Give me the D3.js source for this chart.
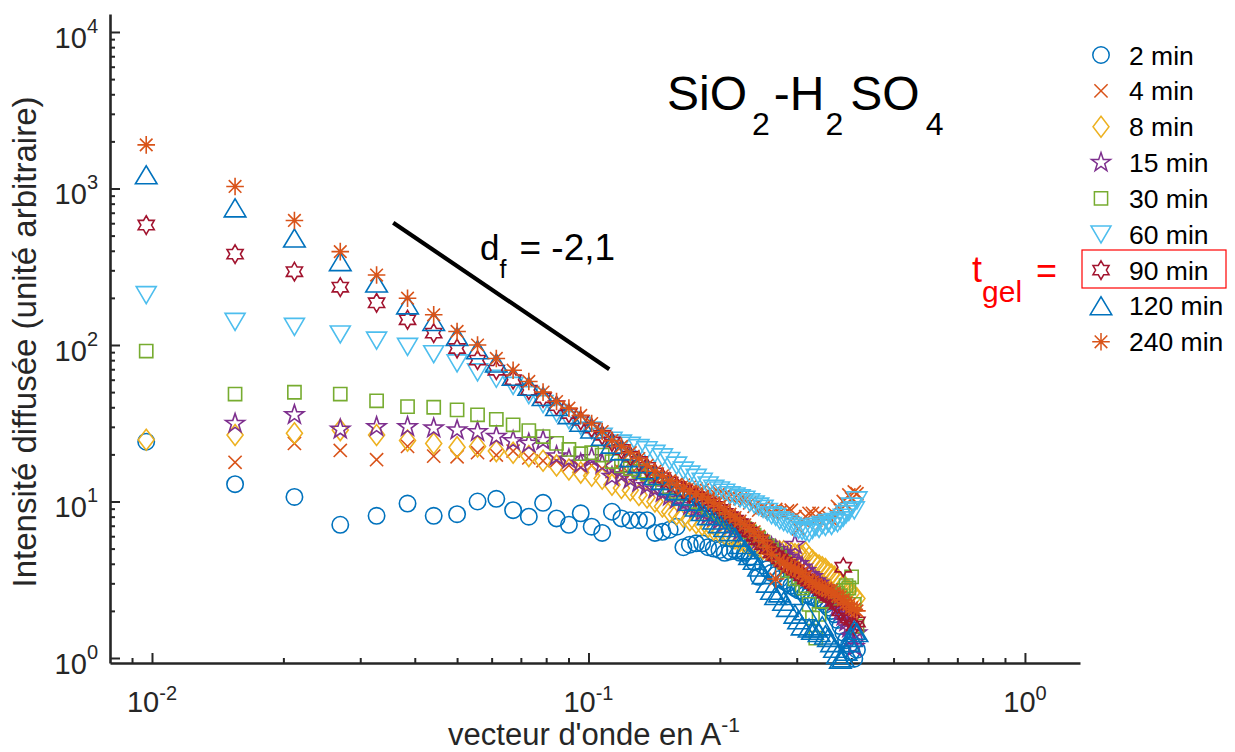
<!DOCTYPE html>
<html><head><meta charset="utf-8">
<script src="https://cdn.jsdelivr.net/npm/d3@7"></script>
<style>
html,body{margin:0;padding:0;background:#fff;}
svg{display:block;font-family:"Liberation Sans",Arial,Helvetica,sans-serif;}
</style></head><body>
<svg id="chart" width="1235" height="752"></svg>
<script>
// ---------------- DATA ----------------
const q = [0.0097,0.0155,0.0212,0.0270,0.0327,0.0385,0.0442,0.0500,0.0557,0.0615,
0.0672,0.0730,0.0787,0.0845,0.0902,0.0960,0.1017,0.1075,0.1132,0.1190,
0.1247,0.1305,0.1362,0.1420,0.1477,0.1535,0.1592,0.1650,0.1707,0.1765,
0.1822,0.1880,0.1937,0.1995,0.2052,0.2110,0.2167,0.2225,0.2282,0.2340,
0.2397,0.2455,0.2512,0.2570,0.2627,0.2685,0.2742,0.2800,0.2857,0.2915,
0.2972,0.3030,0.3087,0.3145,0.3202,0.3260,0.3317,0.3375,0.3432,0.3490,
0.3547,0.3605,0.3662,0.3720,0.3777,0.3835,0.3892,0.3950,0.4007,0.4065,0.4122];

const seriesNames = ["2 min","4 min","8 min","15 min","30 min","60 min","90 min","120 min","240 min"];

const I2 = [24.1,12.9,10.7,7.1,8.1,9.7,8.1,8.3,10.0,10.4,
8.8,8.0,9.8,7.8,7.1,8.4,6.9,6.3,8.6,7.8,
7.6,7.6,7.6,6.3,6.4,6.6,6.9,5.1,5.3,5.4,
5.4,5.1,5.0,4.9,4.7,4.8,4.9,4.7,4.7,4.4,
4.1,3.3,3.9,3.7,3.5,3.4,3.2,3.1,3.0,2.9,
2.8,2.7,2.65,2.55,2.5,2.45,2.4,2.35,2.3,2.2,
2.1,2.0,1.9,1.75,1.6,1.45,1.3,1.2,1.1,0.99,1.13];

const I4 = [null,17.8,23.5,21.2,18.5,22.5,19.5,19.3,20.5,19.8,
21.0,19.0,18.2,18.2,17.0,16.5,17.0,16.2,15.5,15.6,
14.9,14.6,14.5,14.1,13.8,13.4,13.0,12.7,12.4,12.0,
11.8,11.6,11.4,11.3,11.0,10.8,10.6,10.4,10.2,9.8,
9.3,8.8,9.1,8.8,8.6,8.9,8.5,8.3,8.7,8.8,
8.0,6.7,7.6,8.0,8.4,8.4,7.6,8.4,7.3,7.8,
8.0,7.6,8.3,9.3,8.8,10.0,9.6,11.0,10.4,11.5,11.2];

const I8 = [24.8,26.6,27.3,28.6,26.6,24.5,23.5,22.2,22.5,21.0,
20.5,19.5,18.2,17.0,16.0,15.3,14.6,14.0,12.8,12.2,
11.8,11.0,10.6,10.0,9.3,8.6,8.3,8.0,7.6,7.3,
7.1,6.9,6.6,6.4,6.2,6.0,5.8,5.6,5.4,5.3,
5.2,5.1,5.0,5.0,4.9,4.9,4.8,4.8,4.7,4.7,
4.6,4.6,4.5,4.7,4.4,4.2,4.0,3.9,3.8,3.7,
3.5,3.4,3.3,3.2,3.0,2.9,2.8,2.7,2.6,2.5,2.4];

const I15 = [null,31.5,35.8,28.9,30.0,30.0,29.4,28.6,27.9,26.0,
24.4,23.5,24.5,19.5,18.6,17.5,19.0,17.3,14.4,14.8,
13.9,13.2,12.6,12.0,11.4,10.8,10.3,9.8,9.4,9.0,
8.6,8.2,7.9,7.6,7.3,7.0,6.8,6.5,6.3,6.1,
5.9,5.7,5.5,5.3,5.1,4.9,4.7,4.5,4.4,4.2,
5.3,4.0,3.8,3.6,3.4,3.3,3.1,3.0,2.8,2.7,
2.55,2.4,2.3,2.15,2.0,1.85,1.7,1.55,1.37,1.18,1.44];

const I30 = [91.5,48.6,49.9,48.6,44.0,40.4,40.0,38.5,35.8,33.5,
30.9,28.4,26.0,23.5,21.5,20.2,20.5,19.8,18.0,16.9,
16.2,15.6,15.0,14.0,13.2,12.4,11.6,11.2,10.5,10.0,
9.6,9.2,8.8,8.4,8.0,7.6,7.3,7.0,6.7,6.4,
6.1,5.8,5.5,5.2,4.9,4.6,4.4,4.1,3.6,3.7,
3.2,3.3,2.8,2.9,2.2,1.8,1.34,1.9,2.3,2.5,
2.6,2.5,2.4,2.6,2.5,2.7,2.9,2.8,3.3,2.2,1.6];

const I60 = [209,141,131,117,107,97.5,87.5,76.5,67,61,
55,48,42,36.8,33.2,30.5,28.5,26.0,24.5,23.5,
22.8,22.0,21.3,20.2,19.2,18.2,17.0,15.8,14.9,14.2,
13.4,12.7,12.1,11.8,11.4,11.0,10.8,10.5,10.3,9.9,
9.6,9.3,9.0,8.6,8.2,8.0,7.6,7.4,7.2,7.0,
6.8,6.6,6.5,6.4,6.3,6.6,6.9,6.7,7.1,6.9,
7.3,7.0,7.4,7.3,7.6,7.9,8.3,8.6,9.3,8.8,10.2];

const I90 = [584,381,294,234,186,145,119,95,80,69,
60,51.5,46,41,36.5,33,29.5,26.5,24,21.5,
19.5,18,16.5,15.2,14.2,13.3,12.5,11.8,11.2,10.7,
10.2,9.8,9.3,8.9,8.4,8.0,7.6,7.2,6.8,6.4,
6.0,5.7,5.3,5.0,4.7,4.5,4.3,4.1,3.95,3.8,
3.65,3.5,3.35,3.2,3.1,3.0,2.9,2.8,2.7,2.6,
2.5,2.45,2.3,2.2,2.0,3.8,1.9,1.8,1.75,1.6,1.7];

const I120 = [1220,750,481,340,248,180,141,113,93,76.5,
63,54.3,46.7,40.3,35.8,32,29,26,23.2,21,
19,17.4,15.9,14.6,13.6,12.6,11.7,10.8,10.0,9.2,
8.6,8.1,7.6,7.2,6.8,6.4,5.9,5.3,4.9,4.5,
4.2,3.8,3.4,3.0,2.7,2.5,2.6,2.3,2.1,2.5,
1.9,1.75,1.6,2.0,1.55,1.5,1.55,1.45,1.6,1.4,
1.35,1.25,1.15,1.05,0.98,1.0,1.1,1.25,1.35,1.5,1.45];

const I240 = [1900,1030,625,395,280,199,156,122,100,82,
69,58.5,50,43.5,39.5,35.5,31.5,28,24.5,22.5,
20.5,18.8,17,15.6,14.6,13.6,12.8,12.1,11.6,11.2,
10.8,10.3,9.8,9.3,8.8,8.3,7.9,7.5,7.1,6.7,
6.4,6.0,5.6,5.1,4.6,3.2,4.2,4.05,3.9,3.8,
3.7,3.6,3.5,3.3,3.15,3.05,2.95,2.85,2.8,2.75,
2.7,2.7,2.6,2.5,2.45,2.35,2.25,2.2,2.1,2.05,2.0];

const seriesValues = [I2,I4,I8,I15,I30,I60,I90,I120,I240];
const markerTypes = ["circle","cross","diamond","pentagram","square","triangleDown","hexagram","triangleUp","asterisk"];
const colors = ["#0072BD","#D95319","#EDB120","#7E2F8E","#77AC30","#4DBEEE","#A2142F","#0072BD","#D95319"];

// reference slope line (drawn in data coordinates)
const slopeQ = [0.0357, 0.1116];
const slopeI = [604, 70];

const xMajor = [0.01, 0.1, 1];
const xMajorExp = ["-2","-1","0"];
const yMajor = [1, 10, 100, 1000, 10000];
const yMajorExp = ["0","1","2","3","4"];
const xMinor = [0.009,0.02,0.03,0.04,0.05,0.06,0.07,0.08,0.09,0.2,0.3,0.4,0.5,0.6,0.7,0.8,0.9];
const yMinor = [2,3,4,5,6,7,8,9,20,30,40,50,60,70,80,90,200,300,400,500,600,700,800,900,2000,3000,4000,5000,6000,7000,8000,9000];

// ---------------- CHART ----------------
const svg = d3.select("#chart");
const axisColor = "#262626";
const x = d3.scaleLog().domain([0.008013, 1.337]).range([110, 1080]);
const y = d3.scaleLog().domain([0.929, 13030]).range([663, 14]);

function shapePath(type){
  const p = d3.path();
  const star = (R, r, n, a0) => {
    for(let k=0;k<2*n;k++){
      const rad = k%2===0 ? R : r;
      const a = a0 + k*Math.PI/n;
      const px = rad*Math.cos(a), py = rad*Math.sin(a);
      if(k===0) p.moveTo(px,py); else p.lineTo(px,py);
    }
    p.closePath();
  };
  switch(type){
    case "circle": p.moveTo(8.2,0); p.arc(0,0,8.2,0,2*Math.PI); p.closePath(); break;
    case "cross": p.moveTo(-6.6,-6.6); p.lineTo(6.6,6.6); p.moveTo(-6.6,6.6); p.lineTo(6.6,-6.6); break;
    case "diamond": p.moveTo(0,-10.5); p.lineTo(8,0); p.lineTo(0,10.5); p.lineTo(-8,0); p.closePath(); break;
    case "pentagram": star(10, 3.9, 5, -Math.PI/2); break;
    case "square": p.rect(-6.6,-6.6,13.2,13.2); break;
    case "triangleDown": p.moveTo(-10,-8.3); p.lineTo(10,-8.3); p.lineTo(0,8.7); p.closePath(); break;
    case "hexagram": star(9.3, 9.3/Math.sqrt(3), 6, -Math.PI/2); break;
    case "triangleUp": p.moveTo(-10.8,8.8); p.lineTo(10.8,8.8); p.lineTo(0,-9.2); p.closePath(); break;
    case "asterisk": p.moveTo(-8.8,0); p.lineTo(8.8,0); p.moveTo(0,-8.8); p.lineTo(0,8.8);
      p.moveTo(-6.3,-6.3); p.lineTo(6.3,6.3); p.moveTo(-6.3,6.3); p.lineTo(6.3,-6.3); break;
  }
  return p.toString();
}

// axes
const gx = svg.append("g").attr("transform","translate(0,663)");
gx.call(d3.axisBottom(x).tickValues(xMinor).tickSize(-5).tickSizeOuter(0).tickFormat(""));
const gx2 = svg.append("g").attr("transform","translate(0,663)");
gx2.call(d3.axisBottom(x).tickValues(xMajor).tickSize(-10).tickSizeOuter(0).tickFormat(""));
gx2.select(".domain").remove();

const gy = svg.append("g").attr("transform","translate(110,0)");
gy.call(d3.axisLeft(y).tickValues(yMinor).tickSize(-5).tickSizeOuter(0).tickFormat(""));
const gy2 = svg.append("g").attr("transform","translate(110,0)");
gy2.call(d3.axisLeft(y).tickValues(yMajor).tickSize(-10).tickSizeOuter(0).tickFormat(""));
gy2.select(".domain").remove();

svg.selectAll(".domain").attr("stroke",axisColor).attr("stroke-width",2.6);
svg.selectAll(".tick line").attr("stroke",axisColor).attr("stroke-width",2);

// tick labels
xMajor.forEach((t,i)=>{
  const tx = svg.append("text").attr("x",x(t)).attr("y",712).attr("text-anchor","middle")
    .attr("fill",axisColor).attr("font-size",29);
  tx.append("tspan").text("10");
  tx.append("tspan").attr("dy",-12).attr("font-size",20).text(xMajorExp[i]);
});
yMajor.forEach((t,i)=>{
  const ty = svg.append("text").attr("x",98).attr("y",y(t)+16).attr("text-anchor","end")
    .attr("fill",axisColor).attr("font-size",29);
  ty.append("tspan").text("10");
  ty.append("tspan").attr("dy",-15).attr("font-size",20).text(yMajorExp[i]);
});

// axis titles
svg.append("text").attr("transform","translate(36,342) rotate(-90)").attr("text-anchor","middle")
  .attr("fill",axisColor).attr("font-size",33).text("Intensité diffusée (unité arbitraire)");
const xl = svg.append("text").attr("x",594).attr("y",745).attr("text-anchor","middle")
  .attr("fill",axisColor).attr("font-size",31);
xl.append("tspan").text("vecteur d'onde en A");
xl.append("tspan").attr("dy",-13).attr("font-size",21).text("-1");

// data markers
seriesValues.forEach((vals,i)=>{
  const pts = q.map((qq,k)=>({q:qq,v:vals[k]})).filter(d=>d.v!=null && d.v>=y.domain()[0]);
  svg.append("g").attr("fill","none").attr("stroke",colors[i]).attr("stroke-width",1.6)
    .selectAll("path").data(pts).join("path")
    .attr("d",shapePath(markerTypes[i]))
    .attr("transform",d=>`translate(${x(d.q)},${y(d.v)})`);
});

// slope line
svg.append("path")
  .attr("d", d3.line().x(d=>x(d[0])).y(d=>y(d[1]))(slopeQ.map((s,k)=>[s,slopeI[k]])))
  .attr("stroke","#000").attr("stroke-width",4.2).attr("fill","none");

// slope annotation
const df = svg.append("text").attr("x",480).attr("y",260).attr("font-size",35).attr("fill","#000");
df.append("tspan").text("d");
df.append("tspan").attr("dy",18).attr("font-size",25).text("f");
df.append("tspan").attr("dy",-18).attr("dx",13).attr("font-size",37).text("= -2,1");

// title
const tt = svg.append("text").attr("x",667).attr("y",110).attr("font-size",48).attr("fill","#000");
tt.append("tspan").text("SiO");
tt.append("tspan").attr("dy",25).attr("dx",5).attr("font-size",32).text("2");
tt.append("tspan").attr("dy",-25).attr("dx",4).text("-H");
tt.append("tspan").attr("dy",25).attr("dx",1).attr("font-size",32).text("2");
tt.append("tspan").attr("dy",-25).attr("dx",7).text("SO");
tt.append("tspan").attr("dy",25).attr("dx",6).attr("font-size",32).text("4");

// legend
const legY0 = 55, legStep = 35.85;
seriesNames.forEach((name,i)=>{
  const ly = legY0 + i*legStep;
  svg.append("path").attr("d",shapePath(markerTypes[i])).attr("transform",`translate(1101,${ly})`)
    .attr("fill","none").attr("stroke",colors[i]).attr("stroke-width",1.5);
  svg.append("text").attr("x",1129).attr("y",ly+9.5).attr("font-size",26.5).attr("fill","#000").text(name);
});
// highlight box around gel time entry
svg.append("rect").attr("x",1082).attr("y",250).attr("width",144).attr("height",38)
  .attr("fill","none").attr("stroke","#FF0000").attr("stroke-width",1.2);

// t_gel =
const tg = svg.append("text").attr("x",972).attr("y",282).attr("font-size",36).attr("fill","#FF0000");
tg.append("tspan").text("t");
tg.append("tspan").attr("dy",20).attr("font-size",30).text("gel");
tg.append("tspan").attr("dy",-19).attr("dx",14).attr("font-size",36).text("=");
</script>
</body></html>
